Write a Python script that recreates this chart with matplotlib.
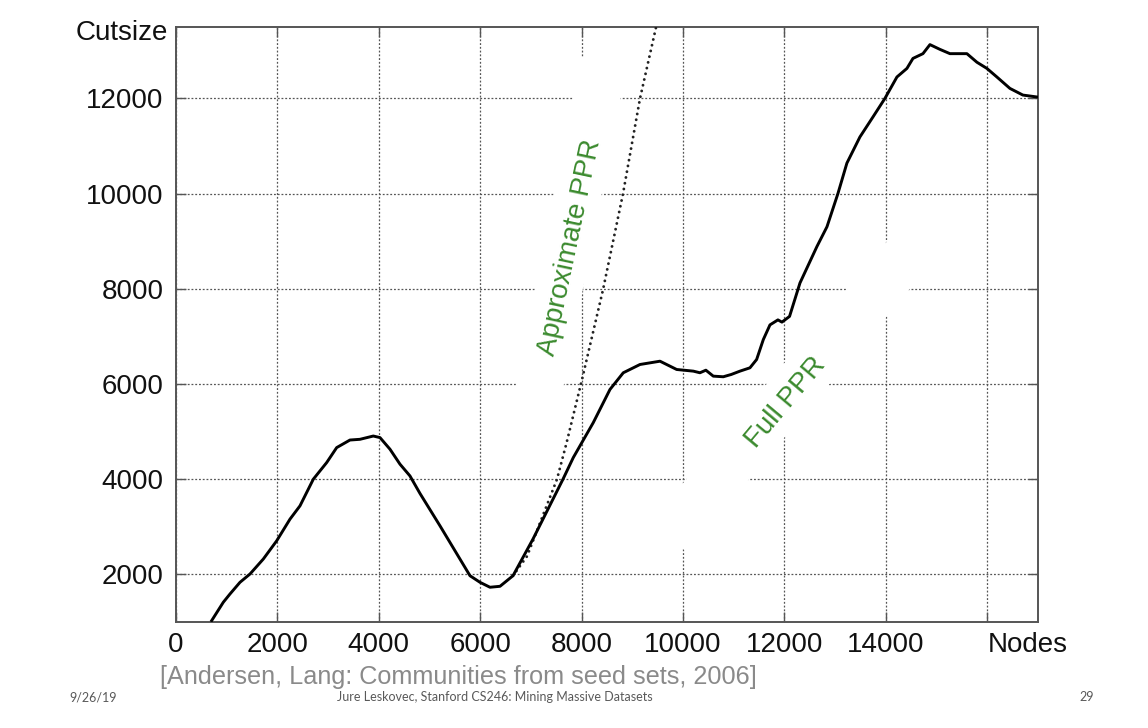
import numpy as np
import matplotlib
matplotlib.use("Agg")
import matplotlib.pyplot as plt
from matplotlib.patches import Polygon
from matplotlib.transforms import Affine2D

# ---- data ----
full_x = [704, 933, 1065, 1262, 1459, 1722, 1986, 2248, 2445, 2708, 2972, 3169,
          3431, 3628, 3891, 4023, 4220, 4417, 4614, 4812, 5206, 5500, 5798, 5995,
          6192, 6390, 6646, 7040, 7632, 7835, 7967, 8229, 8559, 8821, 9151, 9545,
          9874, 10203, 10333, 10450, 10596, 10793, 10950, 11122, 11319, 11451,
          11583, 11714, 11871, 11950, 12100, 12306, 12640, 12838, 13054, 13231,
          13488, 13745, 13981, 14218, 14415, 14534, 14731, 14869, 15066, 15263,
          15598, 15795, 15992, 16189, 16446, 16702, 16978]
full_y = [1030, 1415, 1589, 1834, 2008, 2323, 2706, 3161, 3440, 4000, 4350, 4664,
          4823, 4838, 4907, 4874, 4630, 4316, 4069, 3700, 3021, 2500, 1972, 1834,
          1730, 1750, 1972, 2742, 4000, 4454, 4700, 5188, 5886, 6236, 6410, 6479,
          6305, 6270, 6236, 6290, 6165, 6152, 6200, 6270, 6340, 6515,
          6934, 7242, 7347, 7300, 7420, 8123, 8888, 9303, 10000, 10640,
          11190, 11610, 12000, 12450, 12630, 12840, 12940, 13130, 13030, 12940,
          12940, 12760, 12630, 12450, 12210, 12070, 12030]

approx_x = [6646, 6922, 7514, 7704, 8007, 8421, 8816, 9151, 9466, 9560]
approx_y = [1972, 2380, 4000, 4769, 6094, 7980, 10000, 12000, 13490, 13900]

xticks = [0, 2000, 4000, 6000, 8000, 10000, 12000, 14000, 16000]
xticklabels = ["0", "2000", "4000", "6000", "8000", "10000", "12000", "14000", "Nodes"]
yticks = [2000, 4000, 6000, 8000, 10000, 12000]
yticklabels = ["2000", "4000", "6000", "8000", "10000", "12000"]

W, H = 1148, 728
plt.rcParams['font.family'] = ['Liberation Sans', 'DejaVu Sans']

fig = plt.figure(figsize=(W / 100, H / 100), dpi=100)
ax = fig.add_axes([176 / W, 1 - 622 / H, (1038 - 176) / W, (622 - 27) / H])

ax.set_xlim(0, 17000)
ax.set_ylim(1000, 13500)

ax.grid(True, color='#555555', linestyle=(0, (1.5, 1.5)), linewidth=0.9, zorder=0.5)
ax.set_axisbelow(True)

# white text-box artifacts (in image pixel coordinates)
pix = Affine2D().scale(1, -1).translate(0, H)
def band(p0, p1, width):
    p0 = np.array(p0, float); p1 = np.array(p1, float)
    d = (p1 - p0) / np.linalg.norm(p1 - p0)
    n = np.array([-d[1], d[0]]) * width / 2
    return [p0 + n, p1 + n, p1 - n, p0 - n]

for p0, p1, w in [((530, 434.5), (604, 61.5), 47), ((669, 537), (928, 230), 48)]:
    poly = Polygon(band(p0, p1, w), closed=True, facecolor='white', edgecolor='none',
                   transform=pix, zorder=1)
    ax.add_patch(poly)

ax.plot(approx_x, approx_y, color='#222222', linewidth=2.1,
        linestyle=(0, (0.01, 2.0)), dash_capstyle='round', zorder=3)
ax.plot(full_x, full_y, color='black', linewidth=2.1, zorder=4)

green = '#3b8a2e'
ax.text(7770, 8862, 'Approximate PPR', rotation=78, color=green, fontsize=20,
        ha='center', va='center', rotation_mode='anchor', zorder=5)
ax.text(12030, 5620, 'Full PPR', rotation=50, color=green, fontsize=20,
        ha='center', va='center', rotation_mode='anchor', zorder=5)

ax.set_xticks(xticks)
ax.set_xticklabels(xticklabels)
ax.set_yticks(yticks)
ax.set_yticklabels(yticklabels)
ax.tick_params(axis='both', direction='in', length=7, width=1.0, color='#555555',
               labelsize=20, labelcolor='#111111', top=True, right=True)
ax.tick_params(axis='x', pad=7)
ax.tick_params(axis='y', pad=9)
ax.get_xticklabels()[-1].set_horizontalalignment('left')

for s in ax.spines.values():
    s.set_color('#555555')
    s.set_linewidth(1.4)

ax.text(-0.009, 13370, 'Cutsize', transform=ax.get_yaxis_transform(),
        ha='right', va='center', fontsize=20, color='#111111')

fig.text(160 / W, 1 - 677 / H, '[Andersen, Lang: Communities from seed sets, 2006]',
         ha='left', va='center', fontsize=18.2, color='#8a8a8a')

small = ['Lato', 'DejaVu Sans']
fig.text(93 / W, 1 - 697 / H, '9/26/19', ha='center', va='center', fontsize=9,
         color='#595959', family=small)
fig.text(495 / W, 1 - 697 / H, 'Jure Leskovec, Stanford CS246: Mining Massive Datasets',
         ha='center', va='center', fontsize=9, color='#595959', family=small)
fig.text(1087 / W, 1 - 697 / H, '29', ha='center', va='center', fontsize=9,
         color='#595959', family=small)

fig.savefig('out.png', dpi=100)
